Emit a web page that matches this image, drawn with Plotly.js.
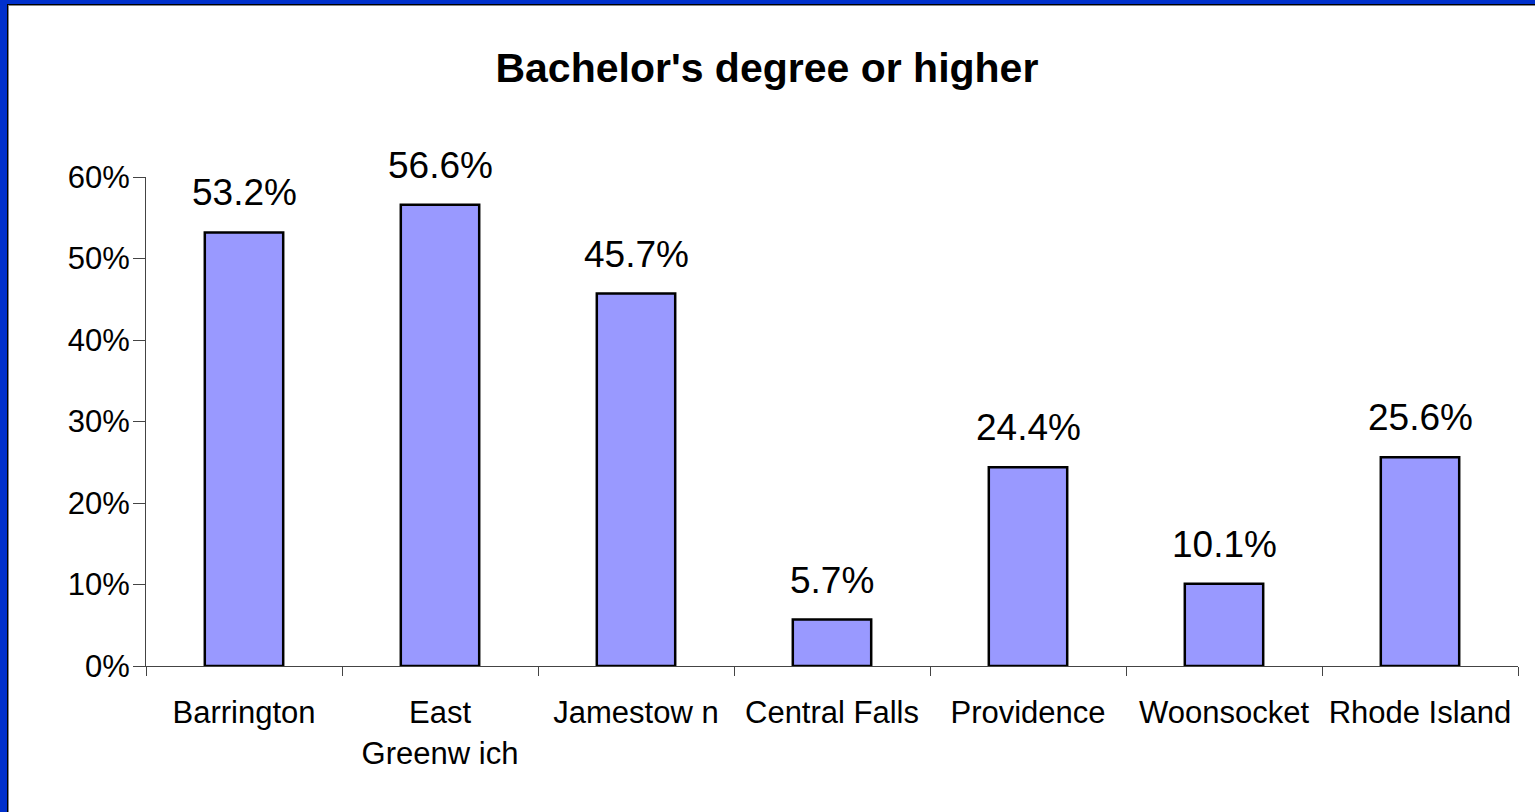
<!DOCTYPE html>
<html>
<head>
<meta charset="utf-8">
<script src="https://cdn.plot.ly/plotly-3.0.1.min.js"></script>
<style>
  html, body { margin: 0; padding: 0; background: #0030cc; overflow: hidden; }
  #frame {
    position: absolute; left: 7px; top: 4px; right: 0; bottom: 0;
    background: #fff; border-left: 1px solid #000; border-top: 1px solid #000;
    box-shadow: inset 1px 1px 0 #888;
  }
  #chart { width: 1527px; height: 807px; }
</style>
</head>
<body>
<div id="frame"><div id="chart"></div></div>
<script>
var CHART_TITLE = "Bachelor's degree or higher";
var FONT = "Arial, 'Liberation Sans', sans-serif";

var places = ["Barrington", "East<br>Greenw ich", "Jamestow n", "Central Falls",
              "Providence", "Woonsocket", "Rhode Island"];
var pctBachelor = [53.2, 56.6, 45.7, 5.7, 24.4, 10.1, 25.6];
var yTicks = [0, 10, 20, 30, 40, 50, 60];

var barData = function(cats, vals) {
  return [{
    type: 'bar',
    x: cats,
    y: vals,
    marker: { color: '#9999ff', line: { color: '#000', width: 2.5 } },
    hoverinfo: 'none'
  }];
};

// value labels sit a bit above each bar
var valueLabels = function(cats, vals) {
  return cats.map(function(c, i) {
    return {
      x: c, y: vals[i], xref: 'x', yref: 'y',
      text: vals[i].toFixed(1) + '%',
      showarrow: false, yanchor: 'bottom', yshift: 17,
      font: { family: FONT, size: 37, color: '#000' }
    };
  });
};

var layout = {
  width: 1527,
  height: 807,
  margin: { l: 138, r: 17, t: 172, b: 146 },
  paper_bgcolor: 'rgba(0,0,0,0)',
  plot_bgcolor: 'rgba(0,0,0,0)',
  showlegend: false,
  bargap: 0.6,
  font: { family: FONT, color: '#000' },
  title: {
    text: '<b>' + CHART_TITLE + '</b>',
    font: { family: FONT, size: 41, color: '#000' },
    x: 0.497, xanchor: 'center', y: 0.922, yanchor: 'middle'
  },
  xaxis: {
    type: 'category',
    showline: true, linecolor: '#444', linewidth: 1,
    ticks: 'outside', tickson: 'boundaries', ticklen: 9, tickcolor: '#444',
    ticklabelstandoff: 19,
    showgrid: false, zeroline: false,
    tickfont: { family: FONT, size: 31, color: '#000' }
  },
  yaxis: {
    range: [0, 60],
    tickvals: yTicks,
    ticktext: yTicks.map(function(v) { return v + '%'; }),
    showline: true, linecolor: '#444', linewidth: 1,
    ticks: 'outside', ticklen: 12, tickcolor: '#444',
    ticklabelstandoff: -3,
    showgrid: false, zeroline: false,
    tickfont: { family: FONT, size: 31, color: '#000' }
  },
  annotations: valueLabels(places, pctBachelor)
};

Plotly.newPlot('chart', barData(places, pctBachelor), layout, { displayModeBar: false, staticPlot: true });
</script>
</body>
</html>
